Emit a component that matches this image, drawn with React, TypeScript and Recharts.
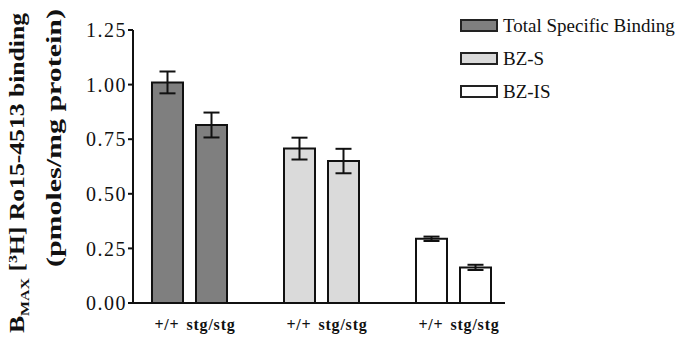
import React from 'react'
import { BarChart, Bar, XAxis, YAxis, Cell, ErrorBar } from 'recharts'

// one slot per bar, empty slots keep the groups apart
const genotypes = ['+/+', 'stg/stg', '', '+/+', 'stg/stg', '', '+/+', 'stg/stg']
const groupOf = [0, 0, null, 1, 1, null, 2, 2]
const bmax = [1.01, 0.815, null, 0.707, 0.65, null, 0.294, 0.163]
const sem = [0.05, 0.057, null, 0.05, 0.056, null, 0.01, 0.012]

const seriesNames = ['Total Specific Binding', 'BZ-S', 'BZ-IS']
const yTicks = [0, 0.25, 0.5, 0.75, 1, 1.25]

const FILLS = ['#7f7f7f', '#dadada', '#ffffff']
const SERIF = "'Liberation Serif', 'Times New Roman', serif"

const data = genotypes.map((g, i) => ({
  slot: `s${i}`,
  genotype: g,
  group: groupOf[i],
  value: bmax[i],
  err: sem[i],
}))

function YLabel() {
  return (
    <g fontFamily={SERIF} fontWeight="bold" fill="#111">
      <text
        transform="translate(24,173) rotate(-90)"
        textAnchor="middle"
        fontSize={21}
        textLength={320}
        lengthAdjust="spacingAndGlyphs"
      >
        B
        <tspan fontSize={13} dy={5}>MAX</tspan>
        <tspan dy={-5}> [</tspan>
        <tspan fontSize={13} dy={-7}>3</tspan>
        <tspan dy={7}>H] Ro15-4513 binding</tspan>
      </text>
      <text
        transform="translate(61,138) rotate(-90)"
        textAnchor="middle"
        fontSize={20}
        textLength={258}
        lengthAdjust="spacingAndGlyphs"
      >
        (pmoles/mg protein)
      </text>
    </g>
  )
}

function LegendBox() {
  return (
    <div
      style={{
        position: 'absolute',
        left: 460,
        top: 9,
        fontFamily: SERIF,
        fontSize: 19,
        color: '#111',
        whiteSpace: 'nowrap',
      }}
    >
      {seriesNames.map((name, i) => (
        <div key={name} style={{ display: 'flex', alignItems: 'center', height: 33 }}>
          <span
            style={{
              display: 'inline-block',
              width: 34,
              height: 9,
              background: FILLS[i],
              border: '2px solid #222',
              marginRight: 5,
            }}
          />
          <span>{name}</span>
        </div>
      ))}
    </div>
  )
}

export default function App() {
  return (
    <div style={{ position: 'absolute', left: 0, top: 0, width: 684, height: 337, background: '#fff' }}>
      <BarChart
        width={684}
        height={337}
        data={data}
        margin={{ top: 30, right: 179, bottom: 0, left: 0 }}
      >
        <XAxis
          dataKey="slot"
          tickFormatter={(_, i) => genotypes[i]}
          interval={0}
          tickLine={false}
          axisLine={{ stroke: '#111', strokeWidth: 2 }}
          padding={{ left: 12, right: 8 }}
          tick={{ fontSize: 16, fontWeight: 'bold', fill: '#111', fontFamily: SERIF, letterSpacing: 0.8 }}
          tickMargin={10}
          height={34}
        />
        <YAxis
          width={133}
          domain={[0, 1.25]}
          ticks={yTicks}
          tickFormatter={(v) => v.toFixed(2)}
          axisLine={{ stroke: '#111', strokeWidth: 2 }}
          tickLine={{ stroke: '#111', strokeWidth: 2 }}
          tickSize={5}
          tickMargin={1}
          tick={{ fontSize: 20, fill: '#111', fontFamily: SERIF, letterSpacing: 1.5 }}
          label={{ content: () => <YLabel /> }}
        />
        <Bar dataKey="value" barSize={31} stroke="#111" strokeWidth={2} isAnimationActive={false}>
          {data.map((d) => (
            <Cell key={d.slot} fill={d.group == null ? 'none' : FILLS[d.group]} />
          ))}
          <ErrorBar dataKey="err" width={8} stroke="#111" strokeWidth={2} direction="y" />
        </Bar>
      </BarChart>
      <LegendBox />
    </div>
  )
}
